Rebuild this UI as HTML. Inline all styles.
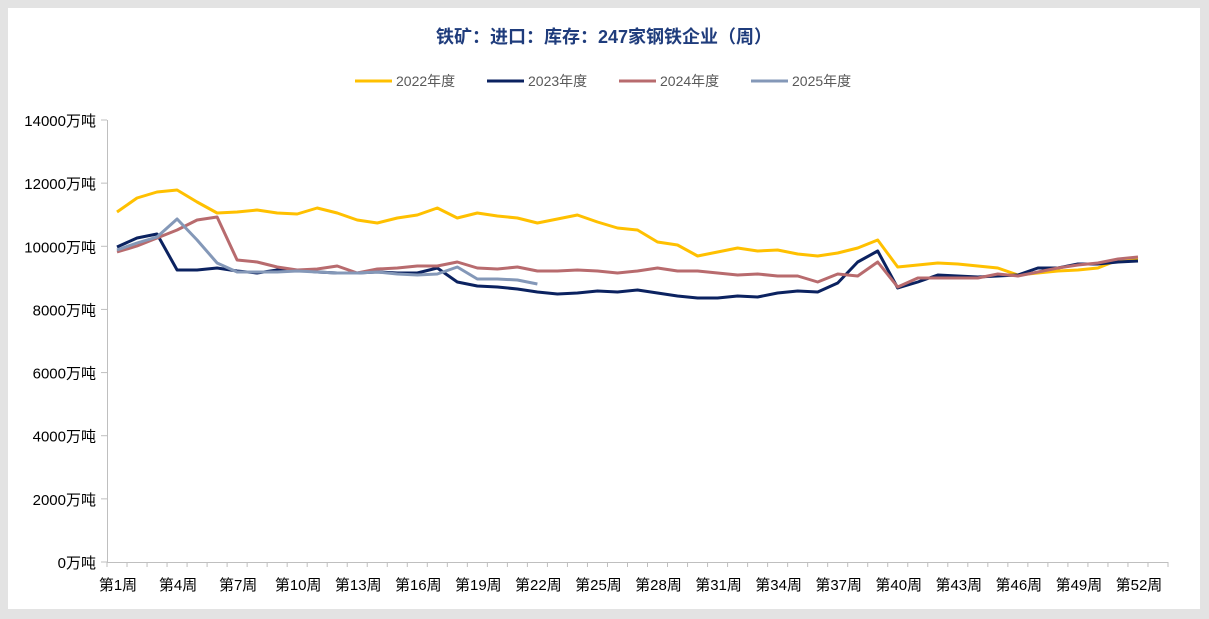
<!DOCTYPE html>
<html><head><meta charset="utf-8"><style>
body{margin:0;background:#e3e3e3;}
svg{display:block}
text{font-family:"Liberation Sans","Noto Sans CJK SC",sans-serif;}
</style></head><body>
<svg width="1209" height="619" xmlns="http://www.w3.org/2000/svg">
<rect x="0" y="0" width="1209" height="619" fill="#e3e3e3"/>
<rect x="8" y="8" width="1192" height="601" fill="#fff"/>
<text x="604" y="43" text-anchor="middle" font-size="18" font-weight="bold" fill="#1f3c7c">铁矿：进口：库存：247家钢铁企业（周）</text>
<g font-size="14" fill="#595959">
<line x1="355" y1="81" x2="392" y2="81" stroke="#ffc000" stroke-width="3"/><text x="396" y="86">2022年度</text>
<line x1="487" y1="81" x2="524" y2="81" stroke="#0b2260" stroke-width="3"/><text x="528" y="86">2023年度</text>
<line x1="619" y1="81" x2="656" y2="81" stroke="#b86b6e" stroke-width="3"/><text x="660" y="86">2024年度</text>
<line x1="751" y1="81" x2="788" y2="81" stroke="#8498b8" stroke-width="3"/><text x="792" y="86">2025年度</text>
</g>
<g stroke="#bfbfbf" stroke-width="1">
<line x1="107.5" y1="120" x2="107.5" y2="562"/>
<line x1="107" y1="562.5" x2="1168" y2="562.5"/>
</g>
<g font-size="15" fill="#000" text-anchor="end" id="yl"></g>
<g id="xt"></g>
<g id="series" fill="none" stroke-width="3" stroke-linejoin="round"></g>
</svg>
<script>
var ns="http://www.w3.org/2000/svg";
function el(t,a,p,txt){var e=document.createElementNS(ns,t);for(var k in a)e.setAttribute(k,a[k]);if(txt)e.textContent=txt;document.getElementById(p).appendChild(e);return e;}
for(var i=0;i<=7;i++){var y=562-i*442/7;el('text',{x:96,y:y+6},'yl',(i*2000)+'万吨');el('line',{x1:101,y1:y,x2:107,y2:y,stroke:'#bfbfbf'},'yl');}
var w=(1168-107)/53;
for(var i=0;i<=53;i++){var x=107+i*w;el('line',{x1:x,y1:562,x2:x,y2:567,stroke:'#bfbfbf'},'xt');}
for(var i=1;i<=52;i+=3){el('text',{x:107+(i-0.5)*w+1,y:590,'font-size':15,'text-anchor':'middle'},'xt','第'+i+'周');}
var d={
"#ffc000":[212,198,192,190,202,213,212,210,213,214,208,213,220,223,218,215,208,218,213,216,218,223,219,215,222,228,230,242,245,256,252,248,251,250,254,256,253,248,240,267,265,263,264,266,268,275,273,271,270,268,260,260],
"#0b2260":[247,238,234,270,270,268,271,273,270,270,272,273,273,272,273,273,268,282,286,287,289,292,294,293,291,292,290,293,296,298,298,296,297,293,291,292,283,262,251,288,282,275,276,277,276,275,268,268,264,264,262,261],
"#b86b6e":[252,246,238,230,220,217,260,262,267,270,269,266,273,269,268,266,266,262,268,269,267,271,271,270,271,273,271,268,271,271,273,275,274,276,276,282,274,276,262,287,278,278,278,278,274,276,272,268,265,263,259,257],
"#8498b8":[250,243,237,219,240,263,272,272,272,271,272,273,273,272,274,275,274,267,279,279,280,284]};
for(var c in d){var p=d[c].map(function(y,i){return (107+(i+0.5)*w).toFixed(1)+','+y;}).join(' ');el('polyline',{points:p,stroke:c},'series');}
</script>
</body></html>
